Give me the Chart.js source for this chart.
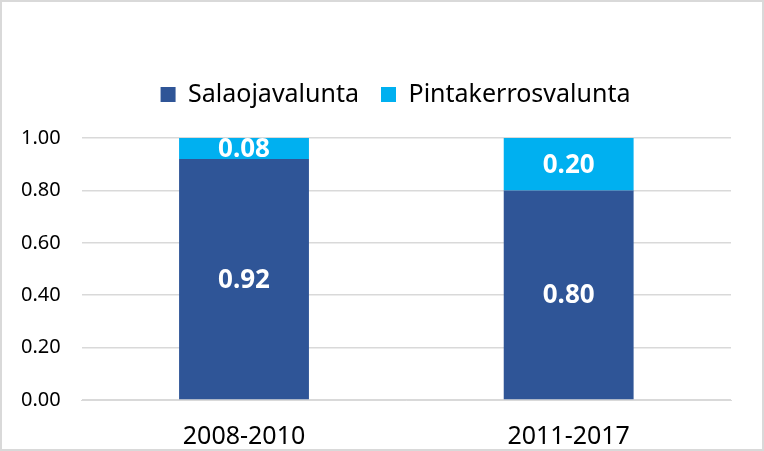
<!DOCTYPE html>
<html>
<head>
<meta charset="utf-8">
<script src="https://cdn.jsdelivr.net/npm/chart.js@4"></script>
<style>
  body { margin: 0; background: #fff; }
  #wrap { position: relative; width: 764px; height: 451px; }
  #frame { position: absolute; left: 0; top: 0; width: 764px; height: 451px; box-sizing: border-box; border: 2px solid #d9d9d9; pointer-events: none; }
</style>
</head>
<body>
<div id="wrap"><canvas id="myChart" width="764" height="451"></canvas><div id="frame"></div></div>
<script>
// shares of runoff per period
var periods = ['2008-2010', '2011-2017'];
var salaoja = [0.92, 0.80];
var pinta = [0.08, 0.20];
var yTicks = [0, 0.2, 0.4, 0.6, 0.8, 1.0];

var font = "'Noto Sans', 'Liberation Sans', sans-serif";

// write the value in the middle of each bar segment
var valueLabels = {
	id: 'valueLabels',
	afterDatasetsDraw: function(chart) {
		var ctx = chart.ctx;
		ctx.save();
		ctx.fillStyle = '#fff';
		ctx.font = 'bold 26px ' + font;
		ctx.textAlign = 'center';
		ctx.textBaseline = 'middle';
		chart.data.datasets.forEach(function(ds, i) {
			chart.getDatasetMeta(i).data.forEach(function(bar, j) {
				var mid = (bar.y + bar.base) / 2;
				ctx.fillText(ds.data[j].toFixed(2), bar.x, mid + 1);
			});
		});
		ctx.restore();
	}
};

// extra room under the legend, and legend pushed a bit to the right
var legendGap = {
	id: 'legendGap',
	beforeInit: function(chart) {
		var fit = chart.legend.fit;
		chart.legend.fit = function() {
			fit.bind(chart.legend)();
			this.height += 21;
		};
	},
	afterLayout: function(chart) {
		chart.legend.left += 30;
		chart.legend.right += 30;
	}
};

var ctx = document.getElementById('myChart').getContext('2d');
new Chart(ctx, {
	type: 'bar',
	data: {
		labels: periods,
		datasets: [{
			label: 'Salaojavalunta',
			backgroundColor: '#2F5597',
			data: salaoja,
			barPercentage: 0.4,
			categoryPercentage: 1
		},
		{
			label: 'Pintakerrosvalunta',
			backgroundColor: '#00B0F0',
			data: pinta,
			barPercentage: 0.4,
			categoryPercentage: 1
		}]
	},
	options: {
		responsive: false,
		animation: false,
		layout: { padding: { top: 60, right: 33, left: 0, bottom: -15 } },
		plugins: {
			legend: {
				position: 'top',
				labels: {
					color: '#000',
					font: { family: font, size: 25 },
					boxWidth: 15,
					boxHeight: 15,
					padding: 22
				}
			},
			tooltip: { enabled: false }
		},
		scales: {
			x: {
				stacked: true,
				grid: { display: false },
				border: { color: '#d9d9d9' },
				ticks: { color: '#000', font: { family: font, size: 25 }, padding: 14 }
			},
			y: {
				stacked: true,
				min: 0,
				max: 1,
				afterBuildTicks: function(axis) {
					axis.ticks = yTicks.map(function(v) { return { value: v }; });
				},
				grid: { color: '#d9d9d9', lineWidth: 1.5, drawTicks: false },
				border: { display: false },
				ticks: {
					color: '#000',
					font: { family: font, size: 20 },
					padding: 21,
					callback: function(v) { return v.toFixed(2); }
				}
			}
		}
	},
	plugins: [valueLabels, legendGap]
});
</script>
</body>
</html>
